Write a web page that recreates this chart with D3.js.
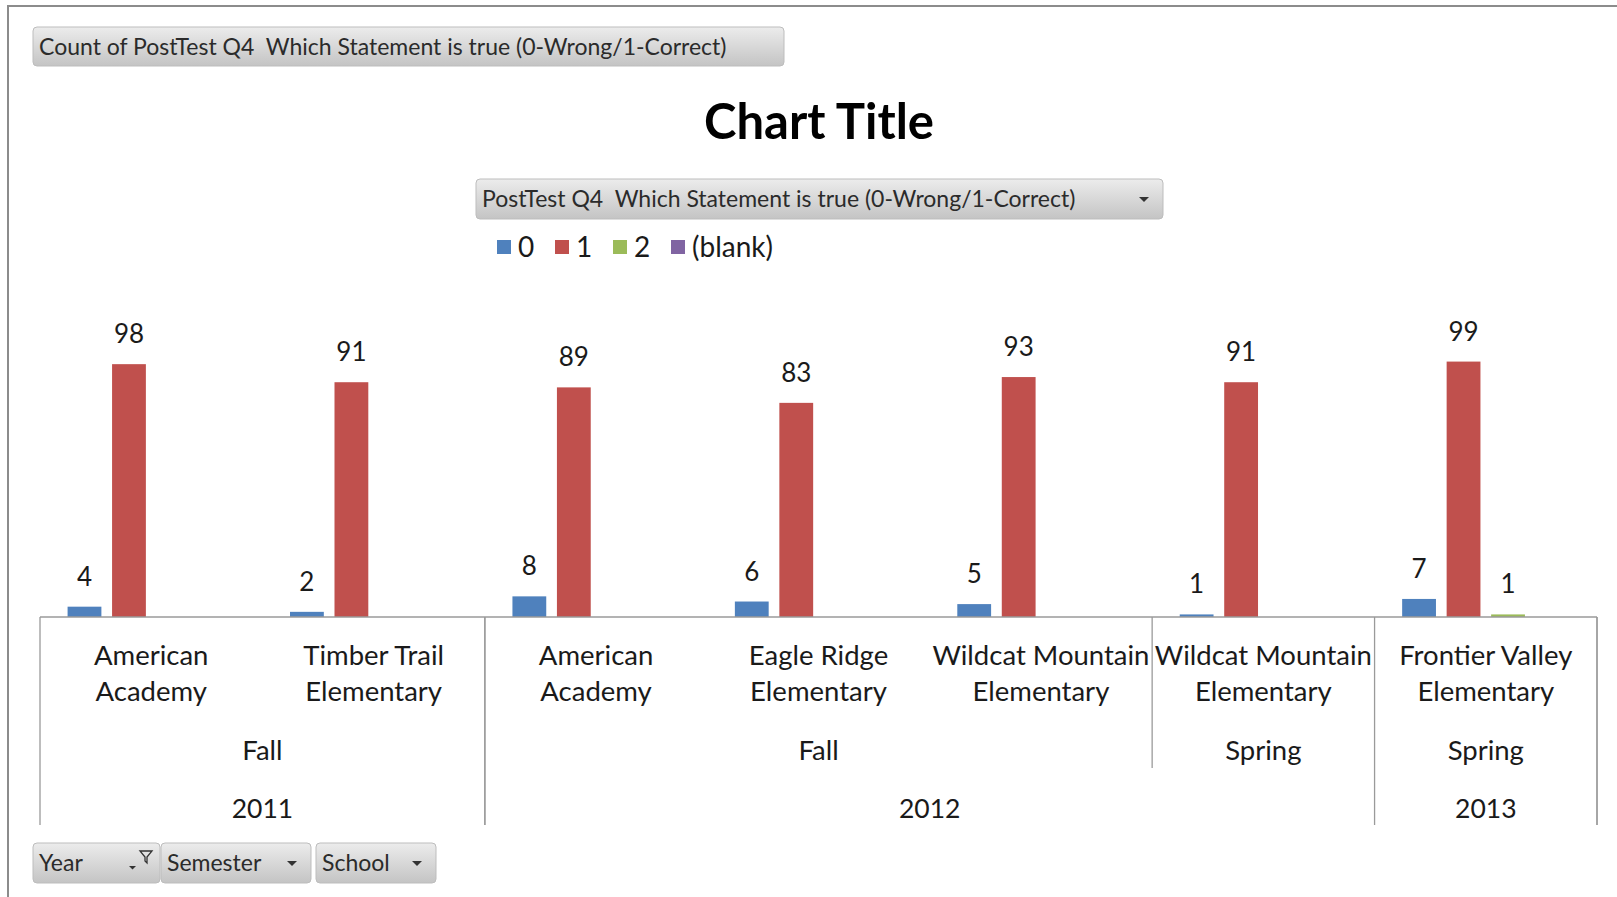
<!DOCTYPE html>
<html>
<head>
<meta charset="utf-8">
<script src="https://cdn.jsdelivr.net/npm/d3@7"></script>
<style>
  html, body { margin: 0; padding: 0; background: #fff; }
  svg text { font-family: Lato, "Open Sans", sans-serif; fill: #1a1a1a; white-space: pre; }
</style>
</head>
<body>
<svg id="chart" width="1617" height="897"></svg>
<script>
// Pivot rows: Year / Semester / School
const years     = ["2011", "2011", "2012", "2012", "2012", "2012", "2013"];
const semesters = ["Fall", "Fall", "Fall", "Fall", "Fall", "Spring", "Spring"];
const schools   = [
  "American|Academy",
  "Timber Trail|Elementary",
  "American|Academy",
  "Eagle Ridge|Elementary",
  "Wildcat Mountain|Elementary",
  "Wildcat Mountain|Elementary",
  "Frontier Valley|Elementary"
];

// Answer codes (series) and counts per row
const seriesKeys   = ["0", "1", "2", "(blank)"];
const seriesColors = ["#4F81BD", "#C0504D", "#9BBB59", "#8064A2"];
const count0     = [4, 2, 8, 6, 5, 1, 7];
const count1     = [98, 91, 89, 83, 93, 91, 99];
const count2     = [null, null, null, null, null, null, 1];
const countBlank = [null, null, null, null, null, null, null];

const fieldLabel = "PostTest Q4  Which Statement is true (0-Wrong/1-Correct)";
const valueLabel = "Count of " + fieldLabel;
const rowFields  = ["Year", "Semester", "School"];

const seriesValues = [count0, count1, count2, countBlank];
const rows = years.map((y, i) => ({ id: i, year: y, semester: semesters[i], school: schools[i] }));

const svg = d3.select("#chart");

// gradient for the pivot field buttons
const defs = svg.append("defs");
const grad = defs.append("linearGradient").attr("id", "btn").attr("x1", 0).attr("y1", 0).attr("x2", 0).attr("y2", 1);
grad.append("stop").attr("offset", "0%").attr("stop-color", "#ececec");
grad.append("stop").attr("offset", "55%").attr("stop-color", "#d6d6d6");
grad.append("stop").attr("offset", "100%").attr("stop-color", "#c4c4c4");

// frame
svg.append("path").attr("d", "M8,897 V6 H1617").attr("fill", "none").attr("stroke", "#8c8c8c").attr("stroke-width", 2);

function button(x, y, w, h, label, fs, arrow) {
  const g = svg.append("g");
  g.append("rect").attr("x", x).attr("y", y).attr("width", w).attr("height", h)
    .attr("rx", 4).attr("fill", "url(#btn)").attr("stroke", "#bdbdbd").attr("stroke-width", 1);
  g.append("text").attr("x", x + 6).attr("y", y + h / 2 + fs * 0.36)
    .attr("font-size", fs).style("fill", "#2b2b2b").text(label);
  if (arrow) {
    const ax = x + w - 19, ay = y + h / 2;
    g.append("path").attr("d", `M${ax - 5},${ay - 2} h10 l-5,5 z`).attr("fill", "#333");
  }
  return g;
}

// value field button
button(33, 27, 751, 39, valueLabel, 23, false);

// title
svg.append("text").attr("x", 819).attr("y", 139).attr("text-anchor", "middle")
  .attr("font-size", 49).attr("font-weight", 700).style("fill", "#000").text("Chart Title");

// legend field button
button(476, 179, 687, 40, fieldLabel, 23, true);

// legend
const legendX = [497, 555, 613, 671];
seriesKeys.forEach((k, i) => {
  svg.append("rect").attr("x", legendX[i]).attr("y", 240).attr("width", 14).attr("height", 14)
    .attr("fill", seriesColors[i]);
  svg.append("text").attr("x", legendX[i] + 21).attr("y", 257).attr("font-size", 28).text(k);
});

// scales
const plotLeft = 40, plotRight = 1597, baseY = 617;
const x0 = d3.scaleBand().domain(rows.map(r => r.id)).range([plotLeft, plotRight]).padding(0);
const x1 = d3.scaleBand().domain(seriesKeys)
  .range([x0.bandwidth() * 0.1, x0.bandwidth() * 0.9]).paddingInner(0.24).paddingOuter(0.12);
const y = d3.scaleLinear().domain([0, 100]).range([baseY, 359]);

// bars
const bars = [];
seriesKeys.forEach((k, si) => {
  seriesValues[si].forEach((v, i) => {
    if (v !== null) bars.push({ key: k, color: seriesColors[si], row: i, value: v });
  });
});

const barG = svg.append("g");
barG.selectAll("rect").data(bars).join("rect")
  .attr("x", d => x0(d.row) + x1(d.key))
  .attr("y", d => y(d.value))
  .attr("width", x1.bandwidth())
  .attr("height", d => baseY - y(d.value))
  .attr("fill", d => d.color);

barG.selectAll("text").data(bars).join("text")
  .attr("x", d => x0(d.row) + x1(d.key) + x1.bandwidth() / 2)
  .attr("y", d => y(d.value) - 21)
  .attr("text-anchor", "middle")
  .attr("font-size", 26)
  .text(d => d.value);

// category axis baseline
const axisG = svg.append("g").attr("stroke", "#9a9a9a").attr("stroke-width", 1.3);
axisG.append("line").attr("x1", plotLeft).attr("x2", plotRight).attr("y1", baseY).attr("y2", baseY);

// school labels
const schoolY1 = 665, schoolY2 = 701, semY = 760, yearY = 818;
rows.forEach(r => {
  const cx = x0(r.id) + x0.bandwidth() / 2;
  const parts = r.school.split("|");
  const t = svg.append("text").attr("text-anchor", "middle").attr("font-size", 27.5);
  t.append("tspan").attr("x", cx).attr("y", schoolY1).text(parts[0]);
  t.append("tspan").attr("x", cx).attr("y", schoolY2).text(parts[1]);
});

// group consecutive rows into spans
function spans(keyFn) {
  const out = [];
  rows.forEach(r => {
    const k = keyFn(r);
    const last = out[out.length - 1];
    if (last && last.key === k) last.end = r.id;
    else out.push({ key: k, start: r.id, end: r.id });
  });
  return out;
}
const semSpans = spans(r => r.year + "|" + r.semester);
const yearSpans = spans(r => r.year);

semSpans.forEach(s => {
  const a = x0(s.start), b = x0(s.end) + x0.bandwidth();
  svg.append("text").attr("x", (a + b) / 2).attr("y", semY).attr("text-anchor", "middle")
    .attr("font-size", 27.5).text(rows[s.start].semester);
});
yearSpans.forEach(s => {
  const a = x0(s.start), b = x0(s.end) + x0.bandwidth();
  svg.append("text").attr("x", (a + b) / 2).attr("y", yearY).attr("text-anchor", "middle")
    .attr("font-size", 26.5).text(rows[s.start].year);
});

// divider lines: year edges go through all levels, semester edges stop at the semester row
const fullBottom = 825, semBottom = 768;
const yearEdges = new Set([plotLeft, plotRight]);
yearSpans.forEach(s => { yearEdges.add(x0(s.start)); yearEdges.add(x0(s.end) + x0.bandwidth()); });
const semEdges = new Set();
semSpans.forEach(s => { semEdges.add(x0(s.start)); semEdges.add(x0(s.end) + x0.bandwidth()); });
yearEdges.forEach(ex => {
  axisG.append("line").attr("x1", ex).attr("x2", ex).attr("y1", baseY).attr("y2", fullBottom);
});
semEdges.forEach(ex => {
  if (![...yearEdges].some(v => Math.abs(v - ex) < 0.5))
    axisG.append("line").attr("x1", ex).attr("x2", ex).attr("y1", baseY).attr("y2", semBottom);
});

// row field buttons
const rowBtn = [[33, 127], [161, 150], [316, 120]];
rowFields.forEach((f, i) => {
  const [bx, bw] = rowBtn[i];
  button(bx, 843, bw, 40, f, 23, i > 0);
});
// filter icon on the Year button
svg.append("path").attr("d", "M140,851 h12 l-5,6 v6 l-2,-2 v-4 z")
  .attr("fill", "none").attr("stroke", "#333").attr("stroke-width", 1.3);
svg.append("path").attr("d", "M129,866 h7 l-3.5,3.5 z").attr("fill", "#333");
</script>
</body>
</html>
